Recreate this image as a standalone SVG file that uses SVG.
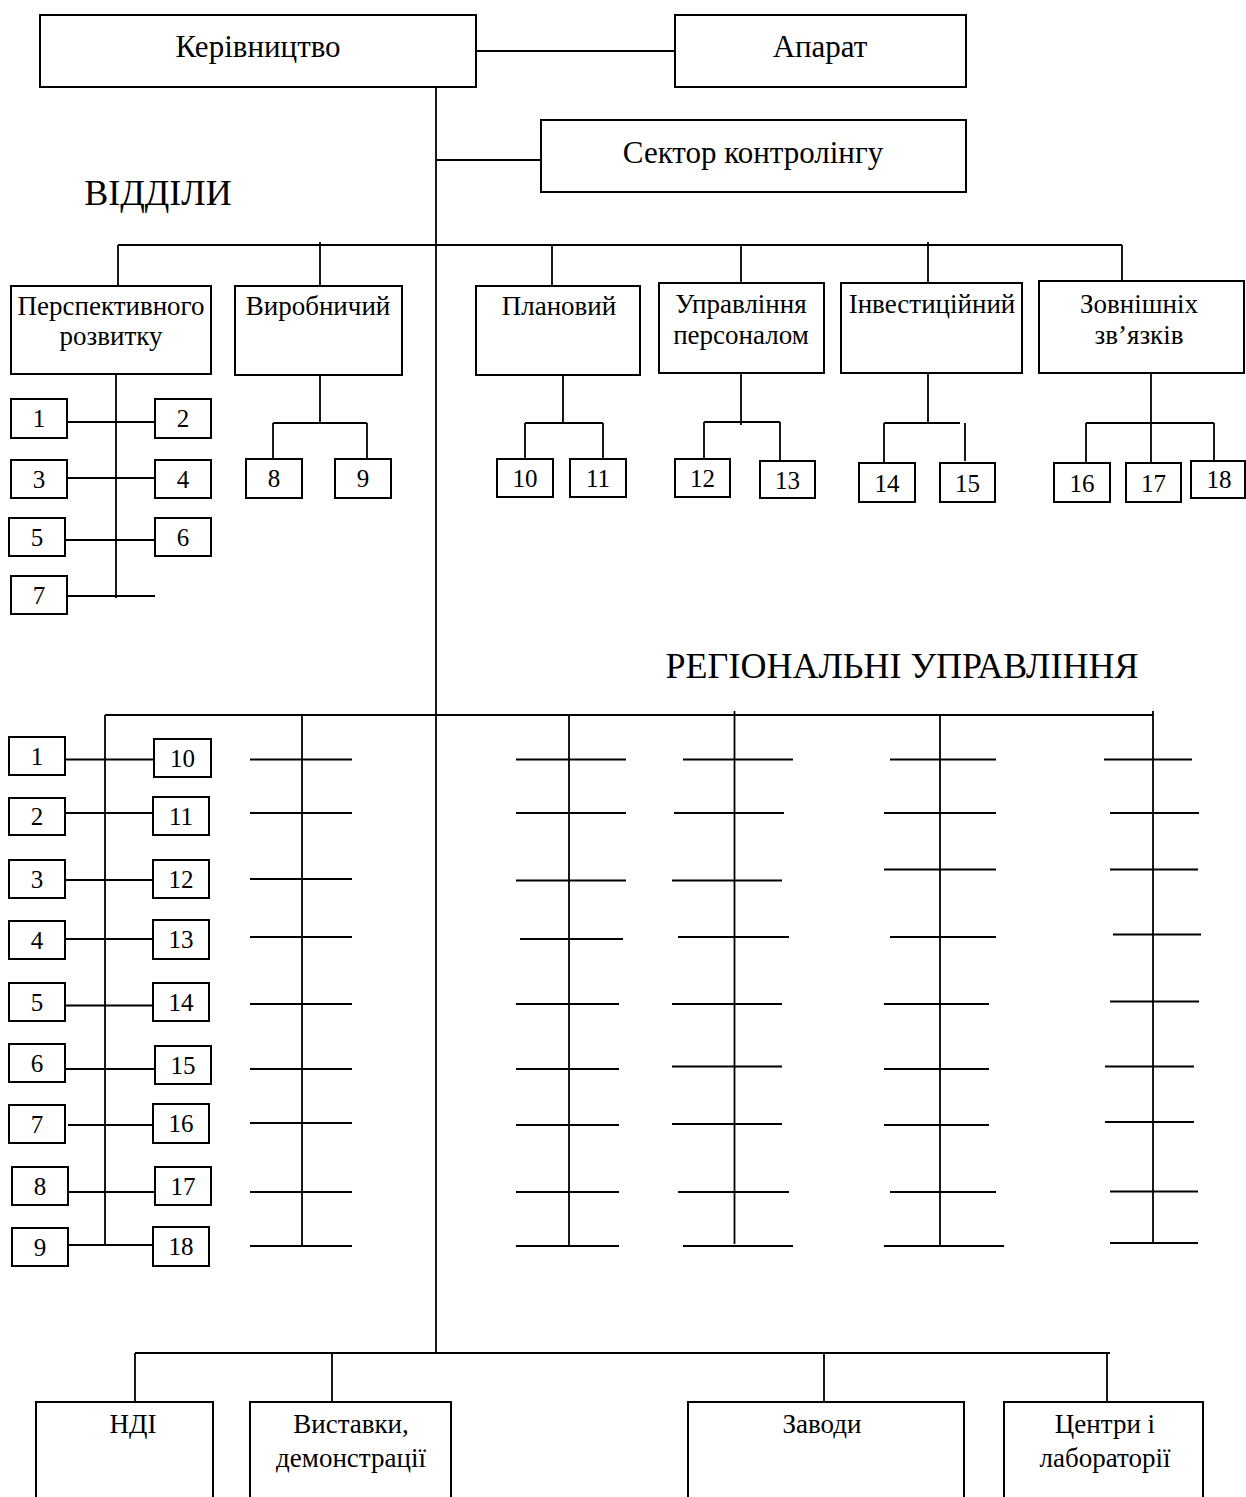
<svg xmlns="http://www.w3.org/2000/svg" width="1246" height="1497" viewBox="0 0 1246 1497">
<style>
.box{fill:#fff;stroke:#000;stroke-width:2}
.ln{stroke:#000;stroke-width:1.8;fill:none}
text{font-family:"Liberation Serif","Times New Roman",serif;fill:#000;text-anchor:middle}
.t1{font-size:31px}
.t2{font-size:27px}
.tn{font-size:25px}
.th{font-size:36px}
</style>
<rect width="1246" height="1497" fill="#fff"/>
<g id="connectors" class="ln">
<line x1="476" y1="51" x2="675" y2="51"/>
<line x1="436" y1="87" x2="436" y2="1353"/>
<line x1="436" y1="160" x2="541" y2="160"/>
<line x1="118" y1="245" x2="1122" y2="245"/>
<line x1="118" y1="245" x2="118" y2="286"/>
<line x1="320" y1="242" x2="320" y2="286"/>
<line x1="552" y1="245" x2="552" y2="286"/>
<line x1="741" y1="245" x2="741" y2="283"/>
<line x1="928" y1="242" x2="928" y2="283"/>
<line x1="1122" y1="245" x2="1122" y2="281"/>
<line x1="116" y1="374" x2="116" y2="598"/>
<line x1="67" y1="422" x2="155" y2="422"/>
<line x1="67" y1="478" x2="155" y2="478"/>
<line x1="65" y1="540" x2="155" y2="540"/>
<line x1="67" y1="596" x2="155" y2="596"/>
<line x1="320" y1="375" x2="320" y2="423"/>
<line x1="273" y1="423" x2="367" y2="423"/>
<line x1="273" y1="423" x2="273" y2="459"/>
<line x1="367" y1="423" x2="367" y2="459"/>
<line x1="563" y1="375" x2="563" y2="423"/>
<line x1="525" y1="423" x2="603" y2="423"/>
<line x1="525" y1="423" x2="525" y2="459"/>
<line x1="603" y1="423" x2="603" y2="459"/>
<line x1="741" y1="373" x2="741" y2="425"/>
<line x1="704" y1="422" x2="780" y2="422"/>
<line x1="704" y1="422" x2="704" y2="459"/>
<line x1="780" y1="422" x2="780" y2="461"/>
<line x1="928" y1="373" x2="928" y2="423"/>
<line x1="884" y1="423" x2="960" y2="423"/>
<line x1="884" y1="423" x2="884" y2="463"/>
<line x1="965" y1="423" x2="965" y2="461"/>
<line x1="1151" y1="373" x2="1151" y2="463"/>
<line x1="1086" y1="423" x2="1214" y2="423"/>
<line x1="1086" y1="423" x2="1086" y2="463"/>
<line x1="1214" y1="423" x2="1214" y2="461"/>
<line x1="105" y1="715" x2="1153" y2="715"/>
<line x1="105" y1="715" x2="105" y2="1246"/>
<line x1="65" y1="759.5" x2="154" y2="759.5"/>
<line x1="65" y1="813" x2="153" y2="813"/>
<line x1="64" y1="880" x2="153" y2="880"/>
<line x1="65" y1="939" x2="153" y2="939"/>
<line x1="63" y1="1005.5" x2="153" y2="1005.5"/>
<line x1="65" y1="1069" x2="155" y2="1069"/>
<line x1="68" y1="1125" x2="155" y2="1125"/>
<line x1="66" y1="1192" x2="155" y2="1192"/>
<line x1="68" y1="1245" x2="156" y2="1245"/>
<line x1="302" y1="715" x2="302" y2="1246"/>
<line x1="250" y1="759.5" x2="352" y2="759.5"/>
<line x1="250" y1="813" x2="352" y2="813"/>
<line x1="250" y1="879" x2="352" y2="879"/>
<line x1="250" y1="937" x2="352" y2="937"/>
<line x1="250" y1="1004" x2="352" y2="1004"/>
<line x1="250" y1="1069" x2="352" y2="1069"/>
<line x1="250" y1="1123" x2="352" y2="1123"/>
<line x1="250" y1="1192" x2="352" y2="1192"/>
<line x1="250" y1="1246" x2="352" y2="1246"/>
<line x1="569" y1="715" x2="569" y2="1246"/>
<line x1="516" y1="759.5" x2="626" y2="759.5"/>
<line x1="516" y1="813" x2="626" y2="813"/>
<line x1="516" y1="880.5" x2="626" y2="880.5"/>
<line x1="520" y1="939" x2="623" y2="939"/>
<line x1="516" y1="1004" x2="619" y2="1004"/>
<line x1="516" y1="1069" x2="619" y2="1069"/>
<line x1="516" y1="1125" x2="619" y2="1125"/>
<line x1="516" y1="1192" x2="619" y2="1192"/>
<line x1="516" y1="1246" x2="619" y2="1246"/>
<line x1="734.5" y1="711" x2="734.5" y2="1244"/>
<line x1="683" y1="759.5" x2="793" y2="759.5"/>
<line x1="674" y1="813" x2="784" y2="813"/>
<line x1="672" y1="880.5" x2="782" y2="880.5"/>
<line x1="678" y1="937" x2="789" y2="937"/>
<line x1="672" y1="1004" x2="782" y2="1004"/>
<line x1="672" y1="1066.5" x2="782" y2="1066.5"/>
<line x1="672" y1="1124" x2="782" y2="1124"/>
<line x1="678" y1="1192" x2="789" y2="1192"/>
<line x1="683" y1="1246" x2="793" y2="1246"/>
<line x1="940" y1="715" x2="940" y2="1246"/>
<line x1="890" y1="759.5" x2="996" y2="759.5"/>
<line x1="884" y1="813" x2="996" y2="813"/>
<line x1="884" y1="869.5" x2="996" y2="869.5"/>
<line x1="890" y1="937" x2="996" y2="937"/>
<line x1="884" y1="1004" x2="989" y2="1004"/>
<line x1="884" y1="1069" x2="989" y2="1069"/>
<line x1="884" y1="1125" x2="989" y2="1125"/>
<line x1="890" y1="1192" x2="996" y2="1192"/>
<line x1="884" y1="1246" x2="1004" y2="1246"/>
<line x1="1153" y1="711" x2="1153" y2="1243"/>
<line x1="1104" y1="759.5" x2="1192" y2="759.5"/>
<line x1="1110" y1="813" x2="1199" y2="813"/>
<line x1="1110" y1="869.5" x2="1198" y2="869.5"/>
<line x1="1113" y1="934.5" x2="1201" y2="934.5"/>
<line x1="1110" y1="1001.5" x2="1199" y2="1001.5"/>
<line x1="1105" y1="1066.5" x2="1194" y2="1066.5"/>
<line x1="1105" y1="1122" x2="1194" y2="1122"/>
<line x1="1110" y1="1191.5" x2="1198" y2="1191.5"/>
<line x1="1110" y1="1243" x2="1198" y2="1243"/>
<line x1="135" y1="1353" x2="1110" y2="1353"/>
<line x1="135" y1="1353" x2="135" y2="1402"/>
<line x1="332" y1="1353" x2="332" y2="1402"/>
<line x1="824" y1="1353" x2="824" y2="1402"/>
<line x1="1107" y1="1353" x2="1107" y2="1402"/>
</g>
<g id="kerivnytstvo"><rect class="box" x="40" y="15" width="436" height="72"/><text class="t1" x="258" y="57">Керівництво</text></g>
<g id="aparat"><rect class="box" x="675" y="15" width="291" height="72"/><text class="t1" x="820" y="57">Апарат</text></g>
<g id="sektor"><rect class="box" x="541" y="120" width="425" height="72"/><text class="t1" x="753" y="163">Сектор контролінгу</text></g>
<g id="heading-viddily"><text class="th" x="158" y="205">ВІДДІЛИ</text></g>
<g id="dept-perspektyvnogo"><rect class="box" x="11" y="286" width="200" height="88"/><text class="t2" x="111" y="315">Перспективного</text><text class="t2" x="111" y="345">розвитку</text></g>
<g id="dept-vyrobnychyi"><rect class="box" x="235" y="286" width="167" height="89"/><text class="t2" x="318" y="315">Виробничий</text></g>
<g id="dept-planovyi"><rect class="box" x="476" y="286" width="164" height="89"/><text class="t2" x="559" y="315">Плановий</text></g>
<g id="dept-upravlinnia"><rect class="box" x="659" y="283" width="165" height="90"/><text class="t2" x="741" y="313">Управління</text><text class="t2" x="741" y="344">персоналом</text></g>
<g id="dept-investytsiinyi"><rect class="box" x="841" y="283" width="181" height="90"/><text class="t2" x="932" y="313">Інвестиційний</text></g>
<g id="dept-zovnishnikh"><rect class="box" x="1039" y="281" width="205" height="92"/><text class="t2" x="1139" y="313">Зовнішніх</text><text class="t2" x="1139" y="344">зв’язків</text></g>
<g id="d1"><rect class="box" x="11" y="399" width="56" height="39"/><text class="tn" x="39" y="427">1</text></g>
<g id="d2"><rect class="box" x="155" y="399" width="56" height="39"/><text class="tn" x="183" y="427">2</text></g>
<g id="d3"><rect class="box" x="11" y="460" width="56" height="38"/><text class="tn" x="39" y="488">3</text></g>
<g id="d4"><rect class="box" x="155" y="460" width="56" height="38"/><text class="tn" x="183" y="488">4</text></g>
<g id="d5"><rect class="box" x="9" y="518" width="56" height="38"/><text class="tn" x="37" y="546">5</text></g>
<g id="d6"><rect class="box" x="155" y="518" width="56" height="38"/><text class="tn" x="183" y="546">6</text></g>
<g id="d7"><rect class="box" x="11" y="576" width="56" height="38"/><text class="tn" x="39" y="604">7</text></g>
<g id="d8"><rect class="box" x="246" y="459" width="56" height="39"/><text class="tn" x="274" y="487">8</text></g>
<g id="d9"><rect class="box" x="335" y="459" width="56" height="39"/><text class="tn" x="363" y="487">9</text></g>
<g id="d10"><rect class="box" x="497" y="459" width="56" height="38"/><text class="tn" x="525" y="487">10</text></g>
<g id="d11"><rect class="box" x="570" y="459" width="56" height="38"/><text class="tn" x="598" y="487">11</text></g>
<g id="d12"><rect class="box" x="675" y="459" width="55" height="38"/><text class="tn" x="702.5" y="487">12</text></g>
<g id="d13"><rect class="box" x="760" y="461" width="55" height="37"/><text class="tn" x="787.5" y="489">13</text></g>
<g id="d14"><rect class="box" x="859" y="463" width="56" height="39"/><text class="tn" x="887" y="492">14</text></g>
<g id="d15"><rect class="box" x="940" y="463" width="55" height="39"/><text class="tn" x="967.5" y="492">15</text></g>
<g id="d16"><rect class="box" x="1054" y="463" width="56" height="39"/><text class="tn" x="1082" y="492">16</text></g>
<g id="d17"><rect class="box" x="1126" y="463" width="55" height="39"/><text class="tn" x="1153.5" y="492">17</text></g>
<g id="d18"><rect class="box" x="1191" y="461" width="54" height="37"/><text class="tn" x="1219" y="488">18</text></g>
<g id="heading-regionalni"><text class="th" x="902" y="678">РЕГІОНАЛЬНІ УПРАВЛІННЯ</text></g>
<g id="r1"><rect class="box" x="9" y="737" width="56" height="38"/><text class="tn" x="37" y="765">1</text></g>
<g id="r10"><rect class="box" x="154" y="739" width="57" height="38"/><text class="tn" x="182.5" y="767">10</text></g>
<g id="r2"><rect class="box" x="9" y="798" width="56" height="37"/><text class="tn" x="37" y="825">2</text></g>
<g id="r11"><rect class="box" x="153" y="797" width="56" height="38"/><text class="tn" x="181" y="825">11</text></g>
<g id="r3"><rect class="box" x="9" y="860" width="56" height="38"/><text class="tn" x="37" y="888">3</text></g>
<g id="r12"><rect class="box" x="153" y="860" width="56" height="38"/><text class="tn" x="181" y="888">12</text></g>
<g id="r4"><rect class="box" x="9" y="921" width="56" height="38"/><text class="tn" x="37" y="949">4</text></g>
<g id="r13"><rect class="box" x="153" y="920" width="56" height="39"/><text class="tn" x="181" y="948">13</text></g>
<g id="r5"><rect class="box" x="9" y="983" width="56" height="38"/><text class="tn" x="37" y="1011">5</text></g>
<g id="r14"><rect class="box" x="153" y="983" width="56" height="38"/><text class="tn" x="181" y="1011">14</text></g>
<g id="r6"><rect class="box" x="9" y="1044" width="56" height="38"/><text class="tn" x="37" y="1072">6</text></g>
<g id="r15"><rect class="box" x="155" y="1046" width="56" height="38"/><text class="tn" x="183" y="1074">15</text></g>
<g id="r7"><rect class="box" x="9" y="1105" width="56" height="38"/><text class="tn" x="37" y="1133">7</text></g>
<g id="r16"><rect class="box" x="153" y="1104" width="56" height="39"/><text class="tn" x="181" y="1132">16</text></g>
<g id="r8"><rect class="box" x="12" y="1167" width="56" height="38"/><text class="tn" x="40" y="1195">8</text></g>
<g id="r17"><rect class="box" x="155" y="1167" width="56" height="38"/><text class="tn" x="183" y="1195">17</text></g>
<g id="r9"><rect class="box" x="12" y="1228" width="56" height="38"/><text class="tn" x="40" y="1256">9</text></g>
<g id="r18"><rect class="box" x="153" y="1227" width="56" height="39"/><text class="tn" x="181" y="1255">18</text></g>
<g id="ndi"><rect class="box" x="36" y="1402" width="177" height="120"/><text class="t2" x="133" y="1433">НДІ</text></g>
<g id="vystavky"><rect class="box" x="250" y="1402" width="201" height="120"/><text class="t2" x="351" y="1433">Виставки,</text><text class="t2" x="351" y="1467">демонстрації</text></g>
<g id="zavody"><rect class="box" x="688" y="1402" width="276" height="120"/><text class="t2" x="822" y="1433">Заводи</text></g>
<g id="tsentry"><rect class="box" x="1004" y="1402" width="199" height="120"/><text class="t2" x="1105" y="1433">Центри і</text><text class="t2" x="1105" y="1467">лабораторії</text></g>
</svg>
